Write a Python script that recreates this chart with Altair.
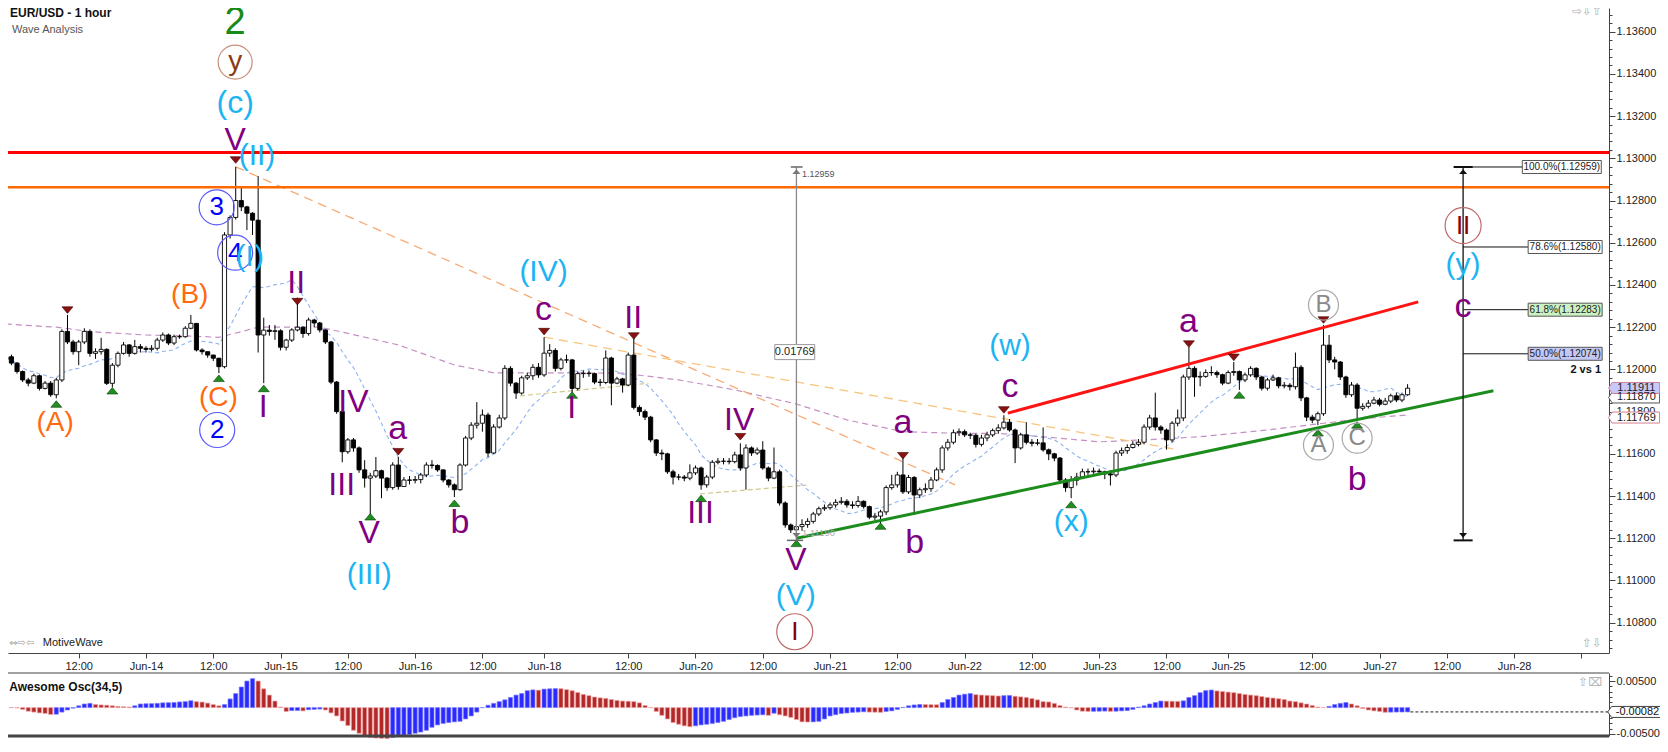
import altair as alt
import pandas as pd

# ---------------- data (prices in pips above 1.1000, slot = hourly bar index) ----------------
SLOT0 = -25
first_open = 204.5
close_p = [
 206, 203, 199, 195, 193.5, 197, 191, 193.5, 188, 195,
 218, 213, 208.4, 213, 218, 207.6, 208.4, 209.5, 193.4, 202,
 207.6, 211.6, 207.6, 210.8, 210, 209.5, 210, 213.9, 216.3, 212.5,
 215.5, 215.5, 219.5, 221.8, 209.2, 208.4, 206.8, 205.3, 201.3, 263.7,
 272, 280, 277, 274, 270.7, 216.3, 218.6, 218, 218.3, 210.5,
 213.9, 218.7, 220, 217, 223.4, 222, 218.7, 213, 194, 180,
 161, 166.6, 162.8, 152.4, 148.5, 149.5, 152, 148.5, 144, 154.7,
 144.5, 147.6, 147.5, 147.8, 150, 154.7, 154.5, 152.4, 147.6, 145.3,
 143, 154.7, 167.5, 173.6, 174.5, 178.4, 160.4, 172.7, 177, 200.5,
 193.5, 188.8, 196, 197, 201, 197.4, 207.7, 209, 200.5, 204.5,
 204.5, 191, 198, 198.2, 198, 194, 193.8, 205.4, 193.5, 195.5,
 192.6, 206.8, 182, 180, 177.4, 166.6, 160.4, 160, 151.5, 149,
 149, 148.5, 151, 153.3, 145.3, 149, 156, 156.5, 156.5, 156.3,
 159.5, 153.3, 162.8, 160.4, 161.8, 153.3, 148.5, 151.5, 136.7, 126.3,
 124, 125.5, 126.5, 128, 131.5, 134, 134.5, 135.8, 137, 137.5,
 135.8, 135.5, 137.5, 135, 130, 130.5, 132.5, 144, 145.3, 150,
 142, 148.8, 140.5, 143, 143.5, 147.6, 152.4, 162.8, 165.5, 170,
 170.5, 169, 168.8, 164.5, 167.5, 169, 171, 172.3, 175, 171.3,
 162.8, 169, 165.5, 165, 165.2, 161.9, 160, 158, 147.6, 144,
 147.5, 149, 151.5, 151.5, 151.8, 151.5, 150.5, 150, 160.4, 161.5,
 163, 164.5, 165.5, 172.7, 177, 172.7, 171.3, 166.6, 174.5, 177,
 196.4, 200.5, 196.4, 196.7, 198.5, 198.5, 197.5, 193.5, 198.5, 199,
 195, 197.4, 200.5, 196.4, 191.1, 195, 196, 192.2, 192.5, 191.8,
 201, 186.5, 177.4, 176, 179, 211.5, 204.5, 203.5, 196.4, 188,
 192.6, 181.6, 182.5, 184, 185.5, 183.5, 185, 187.5, 185.5, 188, 191.1,
]
high_p = [
 207, 207, 203.5, 199.5, 196, 198, 197.5, 194.5, 194.5, 196,
 219, 225.8, 214, 214, 219.5, 219, 210, 215, 210, 203,
 208.5, 213, 212, 214, 212, 211, 211.5, 215, 217.5, 217,
 216.5, 216.5, 220.5, 225.8, 222, 210, 208.5, 207, 205.5, 265,
 273, 296, 286, 277.5, 274.5, 291.6, 224.5, 221, 221, 219,
 214.5, 219.5, 234, 220.5, 224.5, 224, 222.5, 219, 213.5, 194.5,
 180.5, 167.5, 167.5, 163.5, 157, 151, 158.5, 152.5, 149, 156,
 158.5, 149, 149.5, 149.5, 151, 156, 157, 155, 152.5, 148,
 146, 155.5, 168.5, 175, 184.5, 181, 179.5, 174, 178.5, 202,
 201.5, 194, 197, 198.5, 202.5, 203, 215.3, 212, 210, 205.5,
 207, 205, 199, 199.5, 199.5, 198.5, 195.5, 209, 206, 196.5,
 196, 208, 214.8, 183, 181, 178, 167, 162, 160.5, 152.5,
 150.5, 150, 155, 154.5, 154, 150, 157, 158, 158, 158,
 161, 165, 164.5, 163.5, 163, 166, 154, 163, 152.5, 137.5,
 127, 127, 129, 129.5, 132.5, 135, 136, 137, 138.5, 139.5,
 138.5, 137.5, 140, 138, 135.5, 132, 133.5, 145, 150, 151.5,
 158, 150, 149.5, 144, 146, 149, 153.5, 164, 167, 171.5,
 172, 171.5, 170, 169.5, 169, 170.5, 172, 174, 178.3, 176.5,
 172, 170, 175, 167, 167, 172.5, 162.5, 160.5, 158.5, 148.5,
 149.5, 151, 153, 153, 153.5, 153, 152, 152, 161.5, 163,
 164.5, 166, 167, 174, 178.5, 189, 173.5, 172, 175.5, 181,
 197.5, 210.6, 201.5, 199, 200, 201.5, 199.5, 198, 199.5, 203.5,
 199.5, 198.5, 201.5, 201, 197, 196, 197.5, 196.5, 194, 193.5,
 208, 202, 187, 178.5, 180, 221, 216.3, 206, 204, 197,
 194, 193.5, 184, 185.5, 187, 186.5, 186.5, 188.5, 189, 189, 193,
]
low_p = [
 204, 202, 198, 194, 192, 193, 190, 190.5, 187, 186.3,
 194, 212, 207, 202, 212, 206, 205, 207, 192.6, 191.5,
 201, 207, 206, 207, 208, 208, 208.5, 209, 213, 211.5,
 211.5, 214.5, 215, 219, 208.5, 207, 205.5, 204, 198.2, 200.5,
 262, 271, 275, 266, 263.7, 208, 193.5, 216, 214, 209,
 209, 213, 218, 215, 216, 220, 217.5, 212, 193, 179,
 156, 160, 161, 151, 144, 131, 148.5, 139, 142.5, 143,
 143, 145, 145.5, 146, 146, 149, 153, 151.5, 146.5, 144,
 139.5, 142.5, 154, 166.5, 172, 170.5, 158.5, 160, 172, 176,
 192, 186, 188, 195, 195, 196, 196.5, 206, 199, 199.5,
 203, 189, 190, 196, 196.5, 193, 192, 193, 183, 193,
 189, 192, 181, 178, 176, 165.5, 159, 157, 150.5, 145.5,
 147.5, 147, 147.5, 150, 143, 144, 148, 155, 155, 155,
 155.5, 152, 143, 159, 159.5, 152.5, 147, 148, 135.5, 125,
 122.5, 118.9, 123.5, 125, 127, 130.5, 133, 133.5, 134.5, 136,
 134.5, 134, 134.5, 134, 129, 128.5, 127, 131, 143, 144,
 141, 141, 131, 139, 141.5, 142, 147, 151, 161.5, 164.5,
 168.5, 168, 167, 163, 163.5, 166, 168, 169.5, 171.5, 170.5,
 155.6, 162, 164.5, 163.5, 164, 161, 157, 156.5, 146, 142,
 139, 145, 148.5, 150, 150.5, 150, 148, 145, 149, 159,
 160, 162.5, 163.5, 164.5, 171.5, 171, 169.5, 162, 165.5, 173,
 175.5, 195, 187, 192, 196, 197, 196, 192.5, 193, 197,
 190.3, 194, 196.5, 195, 190, 190, 194.5, 191, 191, 190,
 190.5, 185, 175.5, 174.5, 173.6, 178, 203, 200, 195, 186.5,
 187, 176, 180.5, 181.5, 183.5, 182.5, 183, 184, 184.5, 184.5, 187.5,
]
# Awesome oscillator, units of 0.0001
osc_v = [
 0.5, 0.2, -0.5, -3.4, -6.8, -8.5, -10, -11, -13, -12.5,
 -8.5, -4.5, -1, 3.4, 6.8, 8, 6, 5, 4.5, 3.4,
 2.3, 1.7, 1.2, 3.4, 6.8, 7.3, 7.5, 8, 9, 9.3,
 9.6, 10.7, 11.3, 13, 11.3, 10.5, 8.5, 5.7, 3.4, 5.7,
 16.4, 26.6, 39, 50.3, 54.8, 50.3, 35.6, 23.7, 12.4, 1,
 -7.3, -5.7, -5.5, -6.2, -4, -3.4, -2.8, -4.5, -10, -15.8,
 -25.4, -34, -43, -48.6, -54.2, -56.5, -57.6, -58.2, -58.8, -56.5,
 -53.7, -52.5, -50.9, -48.6, -46.3, -43, -37.3, -32.8, -30, -28.3,
 -27, -26, -21.5, -15.8, -8.5, 0, 4.5, 8, 11.3, 14.7,
 19.2, 23.7, 26.6, 32, 33.5, 33, 35, 35.6, 36, 35.8,
 34, 32, 28.5, 25, 22.6, 20, 18.5, 17.5, 15.3, 13.6,
 12.4, 12, 11.3, 9, 4, 0, -7.3, -14.7, -21.5, -28.3,
 -31.6, -34.5, -36.2, -34.5, -32.8, -31.6, -30, -28.3, -26, -22.6,
 -19.2, -17, -15.8, -14.7, -14.1, -13.6, -14.7, -10.7, -13.6, -15.8,
 -18.6, -22.6, -27, -27.3, -27, -26, -21.5, -15.8, -13.5, -11.3,
 -10.2, -9, -8.5, -7.9, -8.5, -8.7, -9, -7.3, -6.2, -3.4,
 0.3, 3.4, 5, 6, 5.8, 5.6, 5.4, 9.6, 15.3, 19.2,
 23.7, 25.4, 26.6, 24.5, 23.7, 23.2, 22.6, 22, 22.6, 23,
 21.5, 20.3, 19.2, 17, 14.7, 11.3, 10.7, 8, 4, 1,
 -0.2, -4.5, -6.8, -7.2, -7.0, -6.8, -6.6, -7.2, -6.8, -6.2,
 -5.7, -3.4, 1, 3.4, 6.8, 9.6, 12.4, 12.2, 12.0, 11.8,
 12.8, 19.2, 22.6, 28.3, 32.2, 33.3, 31.6, 30.5, 29.4, 28.3,
 26.6, 24.9, 23.7, 22.6, 20.9, 19.2, 18.1, 16.9, 15.3, 12.4,
 11.3, 9, 6.8, 4, 1, 0.2, 2.3, 5.7, 8, 9.6,
 6.8, 3.4, -1.7, -4.5, -6.2, -7.3, -8.9, -8.6, -8.4, -8.3, -8.2,
]
# slow moving average (purple dashed)
ma_slot = [-25, -16, -10, 0, 8, 13, 17, 20, 31, 36, 45, 55, 62, 75, 85, 95, 105, 116, 125, 135, 145, 152, 160, 170, 178, 188, 200, 210, 218, 225]
ma_pips = [221.5, 220, 217.9, 216.3, 215.8, 215.2, 217.9, 220, 220, 217.1, 211.6, 202.1, 198.4, 198.4, 198.2, 195, 190.3, 183.6, 176.1, 170.5, 169.7, 169.7, 168.1, 165.7, 166.6, 168.1, 171.3, 174.5, 176.9, 178.4]
# swing markers
red_tri_slot = [-14, 16, 27, 45, 71, 87, 106, 135, 153, 186, 194, 210]
red_tri_pips = [228.1, 299.2, 232.1, 161, 217.9, 215.8, 168.1, 159.1, 180.8, 212, 205.7, 223.4]
grn_tri_slot = [-16, -6, 13, 21, 40, 55, 76, 99, 116, 131, 165, 195, 209, 216]
grn_tri_pips = [183.6, 189.9, 195.8, 191, 130.2, 136.6, 187.9, 138.9, 117.6, 125.8, 136, 187.9, 170, 173.7]
# horizontal levels
red_level = 302.8
orange_level = 286.3
fib_top = 295.9
fib_bottom = 119.0
fib_levels = [295.9, 258.0, 228.3, 207.4]
fib_texts = ["100.0%(1.12959)", "78.6%(1.12580)", "61.8%(1.12283)", "50.0%(1.12074)"]
# time axis
x_ticks = [-12, 0, 12, 24, 36, 48, 60, 71, 86, 98, 110, 122, 134, 146, 158, 170, 182, 193, 208, 220, 232, 244, 256]
x_tick_labels = ['12:00', 'Jun-14', '12:00', 'Jun-15', '12:00', 'Jun-16', '12:00', 'Jun-18', '12:00', 'Jun-20',
                 '12:00', 'Jun-21', '12:00', 'Jun-22', '12:00', 'Jun-23', '12:00', 'Jun-25', '12:00', 'Jun-27',
                 '12:00', 'Jun-28', '']

F = "Liberation Sans, Arial, Helvetica, sans-serif"
LB, PU, OR, BL, GR, BR, DR, GY = '#1cb4f2', '#800080', '#ff6a10', '#0000ff', '#188a18', '#8b3a10', '#8b0000', '#8a8a8a'


def P(v):
    return 1.1 + v / 10000.0


# ---------------- scales and axes ----------------
XS = alt.Scale(domain=[-24.61, 260.92], nice=False, zero=False)
YS = alt.Scale(domain=[P(65.64), P(371.23)], range=[645, 0], nice=False, zero=False)
YOS = alt.Scale(domain=[-0.005379, 0.006553], range=[728, 665], nice=False, zero=False)

lab_arr = "[" + ",".join("'%s'" % s for s in x_tick_labels) + "]"
val_arr = "[" + ",".join(str(v) for v in x_ticks) + "]"
XA = alt.Axis(orient='bottom', offset=-83, values=x_ticks, labelExpr=f"{lab_arr}[indexof({val_arr}, datum.value)]",
              title=None, grid=False, domainColor='#444', tickColor='#444', tickSize=5, labelFont=F,
              labelFontSize=11, labelColor='#222', labelPadding=2, labelOverlap=False, labelFlush=False)
ytick_vals = [round(1.1068 + 0.0004 * k, 4) for k in range(0, 76)]
major = "round(datum.value*10000) % 20 == 0"
YA = alt.Axis(orient='right', values=ytick_vals, labelExpr=f"{major} ? format(datum.value, '.5f') : ''",
              tickSize={"condition": {"test": major, "value": 6}, "value": 3},
              title=None, grid=False, domainColor='#444', tickColor='#444', labelFont=F, labelFontSize=11,
              labelColor='#222', labelPadding=1, labelOverlap=False, labelFlush=False)
omajor = "abs(abs(datum.value) - 0.005) < 0.00001"
YOA = alt.Axis(orient='right', values=[-0.005, -0.004, -0.003, -0.002, -0.001, 0, 0.001, 0.002, 0.003, 0.004, 0.005, 0.006],
               labelExpr=f"{omajor} ? replace(format(datum.value, '.5f'), '\u2212', '-') : ''",
               tickSize={"condition": {"test": omajor, "value": 6}, "value": 3},
               title=None, grid=False, domainColor='#444', tickColor='#444', labelFont=F, labelFontSize=11,
               labelColor='#222', labelPadding=1, labelOverlap=False, labelFlush=False)


def X(f):
    return alt.X(f, type='quantitative', scale=XS, axis=XA)


def Y(f):
    return alt.Y(f, type='quantitative', scale=YS, axis=YA)


def YO(f):
    return alt.Y(f, type='quantitative', scale=YOS, axis=YOA)


# ---------------- tables ----------------
slots = list(range(SLOT0, SLOT0 + len(close_p)))
opens = [first_open] + close_p[:-1]
cdf = pd.DataFrame({
    'slot': slots,
    'open': [P(v) for v in opens],
    'close': [P(v) for v in close_p],
    'high': [P(max(h, o, c)) for h, o, c in zip(high_p, opens, close_p)],
    'low': [P(min(l, o, c)) for l, o, c in zip(low_p, opens, close_p)],
})
odf = pd.DataFrame({'slot': slots, 'ov': [v / 10000.0 for v in osc_v], 'zero': 0.0})


def seg(points, color, width, dash=None):
    d = pd.DataFrame({'slot': [p[0] for p in points], 'p': [P(p[1]) for p in points]})
    kw = dict(color=color, strokeWidth=width)
    if dash:
        kw['strokeDash'] = dash
    return alt.Chart(d).mark_line(**kw).encode(x=X('slot'), y=Y('p'))


layers = []
# slow MA (purple dashed)
layers.append(alt.Chart(pd.DataFrame({'slot': ma_slot, 'p': [P(v) for v in ma_pips]}))
              .mark_line(color='#c58fc5', strokeWidth=1.2, strokeDash=[6, 4]).encode(x=X('slot'), y=Y('p')))
# fast MA (light blue dashed), 13 bar mean of the closes
layers.append(alt.Chart(cdf).transform_window(ma='mean(close)', frame=[-12, 0], sort=[alt.SortField('slot')])
              .mark_line(color='#8fb2f2', strokeWidth=1.1, strokeDash=[4, 3]).encode(x=X('slot'), y=Y('ma')))
layers.append(seg([(66.7, 187.5), (89.6, 193.4)], '#cfc88f', 1.2, [5, 3]))
layers.append(seg([(98.8, 141.0), (117.8, 145.2)], '#cfc88f', 1.2, [5, 3]))
layers.append(seg([(16, 296.0), (144.3, 145.3)], '#f7ab75', 1.3, [9, 6]))
layers.append(seg([(71, 215.3), (184, 162.0)], '#f8c47e', 1.3, [9, 6]))
# candles
layers.append(alt.Chart(cdf).mark_rule(color='black', strokeWidth=1).encode(x=X('slot'), y=Y('low'), y2=alt.Y2('high')))
layers.append(alt.Chart(cdf).transform_calculate(xl='datum.slot - 0.37', xr='datum.slot + 0.37')
              .mark_rect(stroke='black', strokeWidth=0.9)
              .encode(x=X('xl'), x2=alt.X2('xr'), y=Y('open'), y2=alt.Y2('close'),
                      fill=alt.condition('datum.close >= datum.open', alt.value('white'), alt.value('black'))))
# horizontal levels
hl = pd.DataFrame({'p': [P(orange_level), P(red_level)], 'c': ['#ff6a00', '#ff0000'], 'w': [2.5, 3]})
layers.append(alt.Chart(hl).mark_rule().encode(y=Y('p'), color=alt.Color('c:N', scale=None),
                                               strokeWidth=alt.StrokeWidth('w:Q', scale=None)))
# trend lines
layers.append(seg([(153.7, 179.3), (226.9, 232.0)], '#ff1414', 3))
layers.append(seg([(116.05, 120.0), (240.3, 189.9)], '#1c8c1c', 3))
# swing triangles
tri_down = "M-1,-0.6L1,-0.6L0,0.6Z"
tri_up = "M-1,0.6L1,0.6L0,-0.6Z"
layers.append(alt.Chart(pd.DataFrame({'slot': red_tri_slot, 'p': [P(v) for v in red_tri_pips]}))
              .mark_point(shape=tri_down, filled=True, size=120, color='#8b1010', stroke='#3a0000', strokeWidth=0.6, opacity=1)
              .encode(x=X('slot'), y=Y('p')))
layers.append(alt.Chart(pd.DataFrame({'slot': grn_tri_slot, 'p': [P(v) for v in grn_tri_pips]}))
              .mark_point(shape=tri_up, filled=True, size=120, color='#1f8f1f', stroke='#0a3a0a', strokeWidth=0.6, opacity=1)
              .encode(x=X('slot'), y=Y('p')))
# measurement tool (gray) and fib tool (black)
rules = pd.DataFrame([
    # x, x2, y, y2, color, width
    (116, 116, fib_bottom, fib_top, '#8a8a8a', 1.3),
    (115.0, 117.1, fib_top, fib_top, '#666666', 1.5),
    (114.3, 117.2, fib_bottom, fib_bottom, '#666666', 1.5),
    (234.9, 234.9, fib_bottom, fib_top, '#111111', 1.3),
    (233.2, 236.6, fib_top, fib_top, '#111111', 2),
    (233.2, 236.6, fib_bottom, fib_bottom, '#111111', 2),
    (234.9, 245.6, fib_levels[0], fib_levels[0], '#111111', 1),
    (234.9, 246.5, fib_levels[1], fib_levels[1], '#111111', 1),
    (234.9, 246.5, fib_levels[2], fib_levels[2], '#111111', 1),
    (234.9, 246.5, fib_levels[3], fib_levels[3], '#111111', 1),
], columns=['x', 'x2', 'y', 'y2', 'c', 'w'])
rules['y'] = rules['y'].map(P)
rules['y2'] = rules['y2'].map(P)
layers.append(alt.Chart(rules).mark_rule().encode(x=X('x'), x2=alt.X2('x2'), y=Y('y'), y2=alt.Y2('y2'),
                                                  color=alt.Color('c:N', scale=None),
                                                  strokeWidth=alt.StrokeWidth('w:Q', scale=None)))
arrows = pd.DataFrame([
    (116, 293.7, tri_up, '#777777'), (116, 121.4, tri_down, '#777777'),
    (234.9, 293.7, tri_up, '#111111'), (234.9, 121.4, tri_down, '#111111'),
], columns=['slot', 'p', 'shape', 'c'])
arrows['p'] = arrows['p'].map(P)
layers.append(alt.Chart(arrows).mark_point(filled=True, size=64, opacity=1)
              .encode(x=X('slot'), y=Y('p'), shape=alt.Shape('shape:N', scale=None), color=alt.Color('c:N', scale=None)))


def box_path(w, h, pointer=False):
    r = h / w
    if pointer:
        return f"M-1,0L-0.86,-{r:.4f}L1,-{r:.4f}L1,{r:.4f}L-0.86,{r:.4f}Z"
    return f"M-1,-{r:.4f}L1,-{r:.4f}L1,{r:.4f}L-1,{r:.4f}Z"


boxes = pd.DataFrame([
    (fib_texts[0], 252.5, fib_levels[0], 79, 13, 'white', '#555555', False, 10),
    (fib_texts[1], 253.1, fib_levels[1], 74, 13, 'white', '#555555', False, 10),
    (fib_texts[2], 253.1, fib_levels[2], 74, 13, '#ccf2c4', '#555555', False, 10),
    (fib_texts[3], 253.1, fib_levels[3], 74, 13, '#c4c8f4', '#555555', False, 10),
    ('0.01769', 115.7, 208.2, 40, 15, 'white', '#999999', False, 11),
    ('1.11870', 265.4, 186.7, 51, 11, 'white', '#555555', True, 11),
    ('1.11911', 265.4, 191.2, 51, 11, '#c8c8fa', '#d08090', True, 11),
    ('1.11769', 265.4, 177.2, 51, 11, 'white', '#d08090', True, 11),
], columns=['t', 'slot', 'p', 'w', 'h', 'fill', 'stroke', 'ptr', 'fs'])
boxes['p'] = boxes['p'].map(P)
boxes['shape'] = [box_path(w, h, ptr) for w, h, ptr in zip(boxes.w, boxes.h, boxes.ptr)]
boxes['size'] = boxes['w'] ** 2
boxes['tx'] = boxes['slot'] + boxes['ptr'].map(lambda b: 0.4 if b else 0.0)
layers.append(alt.Chart(boxes).mark_point(filled=True, opacity=1, strokeWidth=1)
              .encode(x=X('slot'), y=Y('p'), shape=alt.Shape('shape:N', scale=None),
                      size=alt.Size('size:Q', scale=None), fill=alt.Fill('fill:N', scale=None),
                      stroke=alt.Stroke('stroke:N', scale=None)))
layers.append(alt.Chart(boxes).mark_text(font=F, baseline='middle', align='center', color='#222')
              .encode(x=X('tx'), y=Y('p'), text='t:N', size=alt.Size('fs:Q', scale=None)))

# circled wave labels
circ = pd.DataFrame([
    ('y', 15.9, 345.6, BR, '#c8907a', 34, 28),
    ('3', 12.6, 276.8, BL, '#5a5aff', 35, 26),
    ('4', 15.9, 255.3, BL, '#5a5aff', 35, 26),
    ('2', 12.7, 171.3, BL, '#5a5aff', 35, 26),
    ('I', 115.7, 75.7, DR, '#c06a6a', 36, 26),
    ('B', 210, 230.5, GY, '#a8a8a8', 30, 24),
    ('A', 209.1, 164.2, GY, '#a8a8a8', 30, 24),
    ('C', 216, 167.4, GY, '#a8a8a8', 30, 24),
    ('II', 234.9, 268.1, DR, '#c06a6a', 36, 26),
], columns=['t', 'slot', 'p', 'tc', 'cc', 'd', 'fs'])
circ['p'] = circ['p'].map(P)
circ['size'] = circ['d'] ** 2
layers.append(alt.Chart(circ).mark_point(shape='circle', filled=False, strokeWidth=1.2, opacity=1)
              .encode(x=X('slot'), y=Y('p'), size=alt.Size('size:Q', scale=None), color=alt.Color('cc:N', scale=None)))
layers.append(alt.Chart(circ).mark_text(font=F, baseline='middle', align='center')
              .encode(x=X('slot'), y=Y('p'), text='t:N', size=alt.Size('fs:Q', scale=None),
                      color=alt.Color('tc:N', scale=None)))

# wave labels
labels = pd.DataFrame([
    ('2', 15.9, 364.1, GR, 38),
    ('(c)', 15.9, 326.2, LB, 32),
    ('V', 15.9, 308.7, PU, 32),
    ('(II)', 19.8, 301.1, LB, 30),
    ('(I)', 18.5, 253.4, LB, 30),
    ('(B)', 7.8, 235.2, OR, 28),
    ('(A)', -16.2, 174.5, OR, 28),
    ('(C)', 12.9, 186.3, OR, 28),
    ('II', 26.8, 240.8, PU, 32),
    ('I', 20.9, 182.3, PU, 32),
    ('IV', 37, 184.7, PU, 32),
    ('III', 34.9, 145.2, PU, 32),
    ('V', 39.8, 122.3, PU, 32),
    ('(III)', 39.8, 102.6, LB, 30),
    ('a', 44.9, 172.0, PU, 34),
    ('b', 56, 127.1, PU, 34),
    ('(IV)', 70.9, 246.3, LB, 30),
    ('c', 70.9, 228.1, PU, 34),
    ('I', 75.9, 181.6, PU, 32),
    ('II', 86.9, 224.2, PU, 32),
    ('IV', 105.8, 176, PU, 32),
    ('III', 98.9, 131.8, PU, 32),
    ('V', 115.9, 109.7, PU, 32),
    ('(V)', 115.9, 92.8, LB, 30),
    ('a', 135, 174.4, PU, 34),
    ('b', 137.1, 117.6, PU, 34),
    ('(w)', 154.1, 211.0, LB, 30),
    ('c', 154.1, 191.7, PU, 34),
    ('a', 185.9, 222.5, PU, 34),
    ('(x)', 165, 127.5, LB, 30),
    ('b', 216, 147.6, PU, 34),
    ('(y)', 234.9, 249.7, LB, 30),
    ('c', 234.9, 229.6, PU, 34),
], columns=['t', 'slot', 'p', 'c', 'fs'])
labels['p'] = labels['p'].map(P)
layers.append(alt.Chart(labels).mark_text(font=F, baseline='middle', align='center')
              .encode(x=X('slot'), y=Y('p'), text='t:N', size=alt.Size('fs:Q', scale=None),
                      color=alt.Color('c:N', scale=None)))

# small texts
small = pd.DataFrame([
    ('Wave Analysis', -23.9, 360.8, '#555555', 11, 'left', F),
    ('1.12959', 117.0, 292.6, '#555555', 9, 'left', F),
    ('1.11190', 117.0, 122.6, '#aaaaaa', 9.5, 'left', F),
    ('MotiveWave', -18.4, 70.4, '#222222', 11, 'left', F),
], columns=['t', 'slot', 'p', 'c', 'fs', 'al', 'f'])
small['p'] = small['p'].map(P)
for al in ['left']:
    layers.append(alt.Chart(small).mark_text(font=F, baseline='middle', align='left')
                  .encode(x=X('slot'), y=Y('p'), text='t:N', size=alt.Size('fs:Q', scale=None),
                          color=alt.Color('c:N', scale=None)))
bold = pd.DataFrame([
    ('EUR/USD - 1 hour', -24.26, 368.7, 'left', 12),
], columns=['t', 'slot', 'p', 'al', 'fs'])
bold['p'] = bold['p'].map(P)
layers.append(alt.Chart(bold).mark_text(font=F, fontWeight='bold', baseline='middle', align='left', color='#111')
              .encode(x=X('slot'), y=Y('p'), text='t:N', size=alt.Size('fs:Q', scale=None)))
layers.append(alt.Chart(pd.DataFrame({'t': ['2 vs 1'], 'slot': [259.5], 'p': [P(199.7)]}))
              .mark_text(font=F, fontWeight='bold', baseline='middle', align='right', color='#111', fontSize=11)
              .encode(x=X('slot'), y=Y('p'), text='t:N'))
icons = pd.DataFrame({'t': ['\u21e8\u21e9\u21e7', '\u21e7\u21e9'], 'slot': [259.7, 259.7], 'p': [P(369.8), P(70.4)]})
layers.append(alt.Chart(icons).mark_text(font='DejaVu Sans', baseline='middle', align='right', color='#b0b0b0', fontSize=12)
              .encode(x=X('slot'), y=Y('p'), text='t:N'))
layers.append(alt.Chart(pd.DataFrame({'t': ['\u21d4\u21e8\u21e6'], 'slot': [-24.4], 'p': [P(70.4)]}))
              .mark_text(font='DejaVu Sans', baseline='middle', align='left', color='#a0a0a0', fontSize=10)
              .encode(x=X('slot'), y=Y('p'), text='t:N'))

main = alt.layer(*layers)

# ---------------- oscillator ----------------
olayers = []
olayers.append(alt.Chart(odf).transform_window(prev='lag(ov)', sort=[alt.SortField('slot')])
               .transform_calculate(up='datum.prev == null || datum.ov > datum.prev',
                                    xl='datum.slot - 0.37', xr='datum.slot + 0.37')
               .mark_rect(strokeWidth=0.7)
               .encode(x=X('xl'), x2=alt.X2('xr'), y=YO('ov'), y2=alt.Y2('zero'),
                       fill=alt.condition('datum.up', alt.value('#2a2aff'), alt.value('#b02828')),
                       stroke=alt.condition('datum.up', alt.value('#7a7aff'), alt.value('#f0a0a0'))))
olayers.append(alt.Chart(pd.DataFrame({'x': [225.5], 'x2': [260.92], 'y': [-0.00082]}))
               .mark_rule(color='#222', strokeDash=[3, 2], strokeWidth=1)
               .encode(x=X('x'), x2=alt.X2('x2'), y=YO('y')))
frame = pd.DataFrame({'y': [0.006553, -0.005379], 'w': [1.2, 3]})
olayers.append(alt.Chart(frame).mark_rule(color='#444').encode(y=YO('y'), strokeWidth=alt.StrokeWidth('w:Q', scale=None)))
olayers.append(alt.Chart(pd.DataFrame({'t': ['Awesome Osc(34,5)'], 'slot': [-24.4], 'y': [0.00396]}))
               .mark_text(font=F, fontWeight='bold', fontSize=12, baseline='middle', align='left', color='#111')
               .encode(x=X('slot'), y=YO('y'), text='t:N'))
olayers.append(alt.Chart(pd.DataFrame({'t': ['\u21e7\u2327'], 'slot': [259.7], 'y': [0.0049]}))
               .mark_text(font='DejaVu Sans', fontSize=12, baseline='middle', align='right', color='#b0b0b0')
               .encode(x=X('slot'), y=YO('y'), text='t:N'))
obox = pd.DataFrame({'t': ['-0.00082'], 'slot': [265.6], 'tx': [266.0], 'y': [-0.00082],
                     'shape': [box_path(55, 11, True)], 'size': [55 ** 2]})
olayers.append(alt.Chart(obox).mark_point(filled=True, opacity=1, fill='white', stroke='#444', strokeWidth=1)
               .encode(x=X('slot'), y=YO('y'), shape=alt.Shape('shape:N', scale=None), size=alt.Size('size:Q', scale=None)))
olayers.append(alt.Chart(obox).mark_text(font=F, fontSize=11, baseline='middle', align='center', color='#111')
               .encode(x=X('tx'), y=YO('y'), text='t:N'))
osc = alt.layer(*olayers)

chart = (alt.layer(main, osc)
         .resolve_scale(y='independent')
         .properties(width=1601, height=728, autosize=alt.AutoSizeParams(type='none'),
                     padding={'left': 0, 'top': 0, 'right': 51, 'bottom': 4}, background='white')
         .configure_view(strokeWidth=0))

chart.save("out.html", embed_options={"renderer": "svg", "actions": False})
